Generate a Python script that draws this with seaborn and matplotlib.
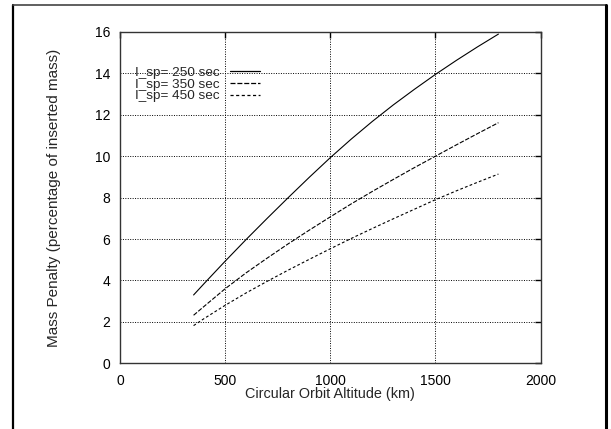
import matplotlib
matplotlib.use("Agg")
import matplotlib.pyplot as plt
import seaborn as sns
import pandas as pd
from matplotlib.lines import Line2D

# ---- data ----
altitude = [350, 400, 500, 600, 700, 800, 900, 1000, 1100, 1200, 1300, 1400, 1500, 1600, 1700, 1800]
isp250 = [3.3, 3.85, 4.93, 5.98, 7.0, 8.0, 8.98, 9.93, 10.83, 11.68, 12.48, 13.23, 13.95, 14.63, 15.28, 15.9]
isp350 = [2.32, 2.75, 3.6, 4.37, 5.08, 5.77, 6.43, 7.07, 7.7, 8.3, 8.88, 9.45, 10.0, 10.55, 11.09, 11.62]
isp450 = [1.82, 2.16, 2.8, 3.4, 3.96, 4.5, 5.02, 5.53, 6.03, 6.51, 6.98, 7.44, 7.9, 8.33, 8.74, 9.14]
series_labels = ["I_sp= 250 sec", "I_sp= 350 sec", "I_sp= 450 sec"]
x_ticks = [0, 500, 1000, 1500, 2000]
y_ticks = [0, 2, 4, 6, 8, 10, 12, 14, 16]

df = pd.concat([
    pd.DataFrame({"alt": altitude, "val": v, "series": lab})
    for v, lab in zip([isp250, isp350, isp450], series_labels)
])

sns.set_style("white")
plt.rcParams["font.family"] = ["Liberation Sans", "DejaVu Sans"]

fig = plt.figure(figsize=(6.11, 4.29), dpi=100)
ax = fig.add_axes([120 / 611, 1 - 363.3 / 429, (540.5 - 120) / 611, (363.3 - 32) / 429])

sns.lineplot(data=df, x="alt", y="val", hue="series", style="series",
             palette=["black", "black", "black"],
             dashes={series_labels[0]: "", series_labels[1]: (4, 1.5), series_labels[2]: (2.5, 2)},
             linewidth=0.8, ax=ax, legend=True)

ax.set_xlim(0, 2000)
ax.set_ylim(0, 16)
ax.set_xticks(x_ticks)
ax.set_yticks(y_ticks)
ax.tick_params(axis="both", direction="in", length=4, width=1, top=True, right=True,
               labelsize=10, colors="black", pad=7)
ax.tick_params(axis="x", pad=8)
ax.grid(True, color="black", linestyle=(0, (1, 1.5)), linewidth=0.7)
for s in ax.spines.values():
    s.set_color("#333333")
    s.set_linewidth(1.0)
    s.set_visible(True)

ax.set_xlabel("Circular Orbit Altitude (km)", fontsize=10.4, labelpad=-1)
ax.set_ylabel("Mass Penalty (percentage of inserted mass)", fontsize=11, labelpad=24)

handles, labels = ax.get_legend_handles_labels()
leg = ax.legend(handles, labels, loc="upper left", bbox_to_anchor=(0.022, 0.912),
                frameon=False, markerfirst=False, fontsize=9.7, handlelength=2.2,
                handletextpad=0.8, labelspacing=-0.06, borderaxespad=0)
for h in leg.get_lines():
    h.set_linewidth(0.9)

# figure border
fig.add_artist(Line2D([13 / 611, 13 / 611], [0, 1 - 5 / 429], transform=fig.transFigure, color="black", lw=1.6))
fig.add_artist(Line2D([13 / 611, 606 / 611], [1 - 5 / 429, 1 - 5 / 429], transform=fig.transFigure, color="#444444", lw=1.2))
fig.add_artist(Line2D([606 / 611, 606 / 611], [0, 1 - 5 / 429], transform=fig.transFigure, color="black", lw=2.2))

fig.savefig("out.png", dpi=100)
